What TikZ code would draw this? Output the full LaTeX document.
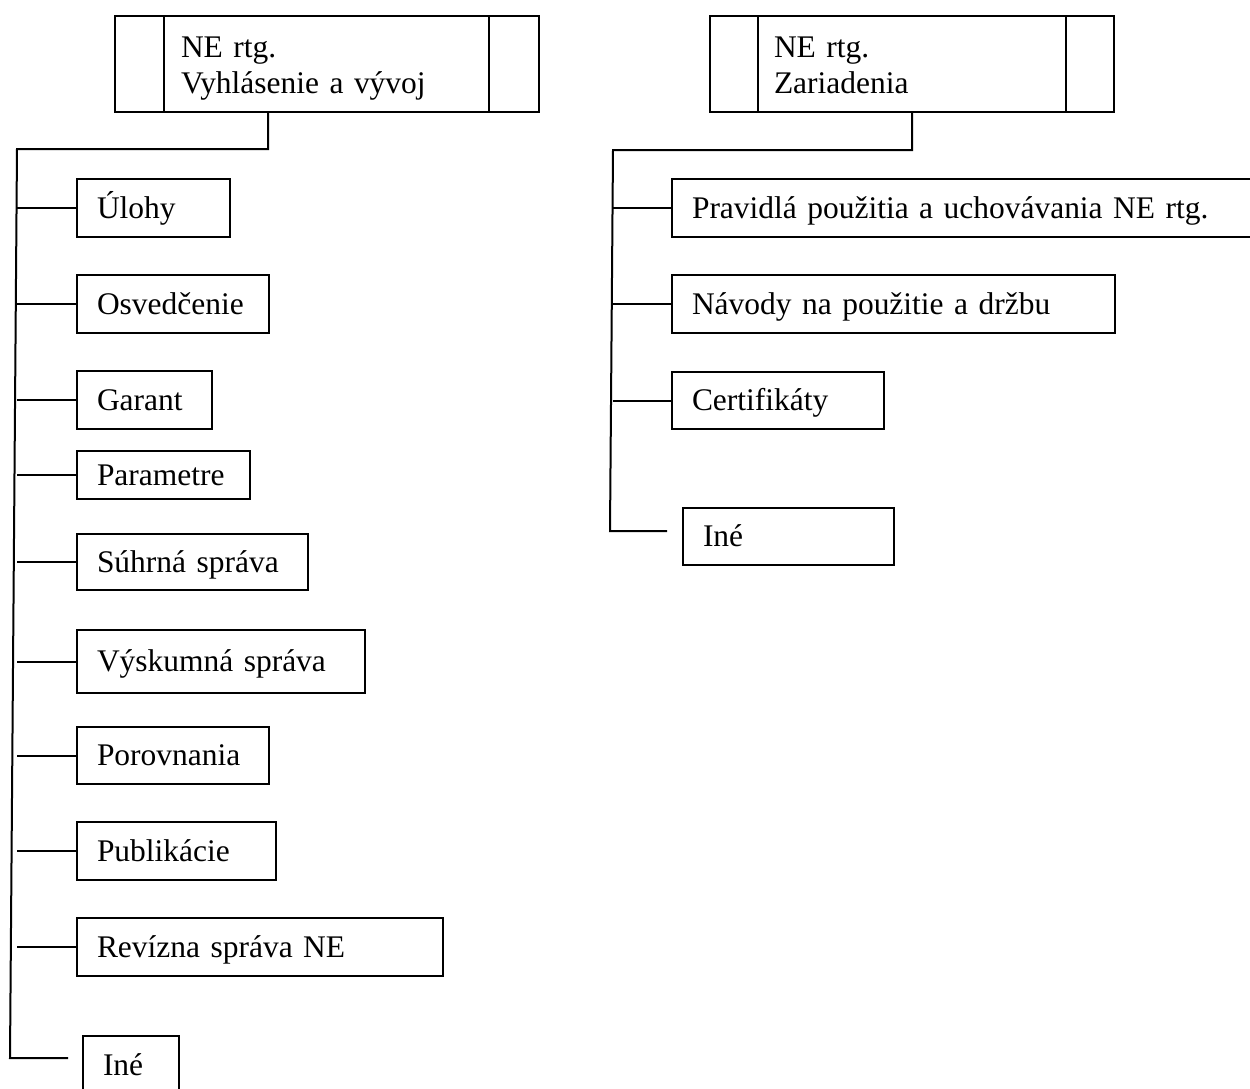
\documentclass[tikz,border=0pt]{standalone}
\usepackage{fontspec}
\setmainfont{Liberation Serif}
\tikzset{every picture/.style={line width=1.5pt}}
\tikzset{
  entry/.style 2 args={draw, anchor=north west, inner xsep=15pt, inner ysep=0pt,
    text width={(#1-40)*0.75pt}, minimum height={#2*0.75pt}, align=left,
    text height=17pt, text depth=2pt, font=\fontsize{23.6}{27}\selectfont},
  head/.style 2 args={draw, anchor=north west, inner xsep=#2*0.75pt, inner ysep=0pt,
    text width={(#1-2*#2)*0.75pt}, minimum height=72pt, align=left,
    text height=17pt, text depth=27.5pt, font=\fontsize{23.6}{27}\selectfont},
}

\begin{document}
\begin{tikzpicture}[x=0.75pt,y=0.75pt,yscale=-1,xscale=1]
    \useasboundingbox (0,0) rectangle (1250,1089);
    % Header Nodes
    \node [head={424}{66}] (vyvoj) at (114,15) {NE rtg.\\Vyhlásenie a vývoj};
    \draw ([xshift=37.5pt]vyvoj.north west) -- ([xshift=37.5pt]vyvoj.south west);
    \draw ([xshift=-38.25pt]vyvoj.north east) -- ([xshift=-38.25pt]vyvoj.south east);
    \node [head={404}{64}] (zariadenia) at (709,15) {NE rtg.\\Zariadenia};
    \draw ([xshift=36.75pt]zariadenia.north west) -- ([xshift=36.75pt]zariadenia.south west);
    \draw ([xshift=-36.75pt]zariadenia.north east) -- ([xshift=-36.75pt]zariadenia.south east);
    % Trunk coordinates
    \coordinate (lfork) at (268,149);
    \coordinate (ltop) at (17,149);
    \coordinate (lbot) at (10,1058);
    \coordinate (lend) at (68,1058);
    \coordinate (rfork) at (912,150);
    \coordinate (rtop) at (613,150);
    \coordinate (rbot) at (610,531);
    \coordinate (rend) at (667,531);
    % Left Text Nodes
    \node [entry={153}{58}] (ulohy) at (76,178) {Úlohy};
    \node [entry={192}{58}] (osvedcenie) at (76,274) {Osvedčenie};
    \node [entry={135}{58}] (garant) at (76,370) {Garant};
    \node [entry={173}{48}] (parametre) at (76,450) {Parametre};
    \node [entry={231}{56}] (suhrna) at (76,533) {Súhrná správa};
    \node [entry={288}{63}] (vyskumna) at (76,629) {Výskumná správa};
    \node [entry={192}{57}] (porovnania) at (76,726) {Porovnania};
    \node [entry={199}{58}] (publikacie) at (76,821) {Publikácie};
    \node [entry={366}{58}] (revizna) at (76,917) {Revízna správa NE};
    \node [entry={96}{58}] (ine1) at (82,1035) {Iné};
    % Right Text Nodes
    \node [entry={591}{58}] (pravidla) at (671,178) {Pravidlá použitia a uchovávania NE rtg.};
    \node [entry={443}{58}] (navody) at (671,274) {Návody na použitie a držbu};
    \node [entry={212}{57}] (certifikaty) at (671,371) {Certifikáty};
    \node [entry={211}{57}] (ine2) at (682,507) {Iné};
    % Left Connections
    \draw (vyvoj.south -| lfork) -- (lfork) -- (ltop) -- (lbot) -- (lend);
    \draw (ulohy.west -| ltop) -- (ulohy.west);
    \draw (osvedcenie.west -| ltop) -- (osvedcenie.west);
    \draw (garant.west -| ltop) -- (garant.west);
    \draw (parametre.west -| ltop) -- (parametre.west);
    \draw (suhrna.west -| ltop) -- (suhrna.west);
    \draw (vyskumna.west -| ltop) -- (vyskumna.west);
    \draw (porovnania.west -| ltop) -- (porovnania.west);
    \draw (publikacie.west -| ltop) -- (publikacie.west);
    \draw (revizna.west -| ltop) -- (revizna.west);
    % Right Connections
    \draw (zariadenia.south -| rfork) -- (rfork) -- (rtop) -- (rbot) -- (rend);
    \draw (pravidla.west -| rtop) -- (pravidla.west);
    \draw (navody.west -| rtop) -- (navody.west);
    \draw (certifikaty.west -| rtop) -- (certifikaty.west);
\end{tikzpicture}
\end{document}
